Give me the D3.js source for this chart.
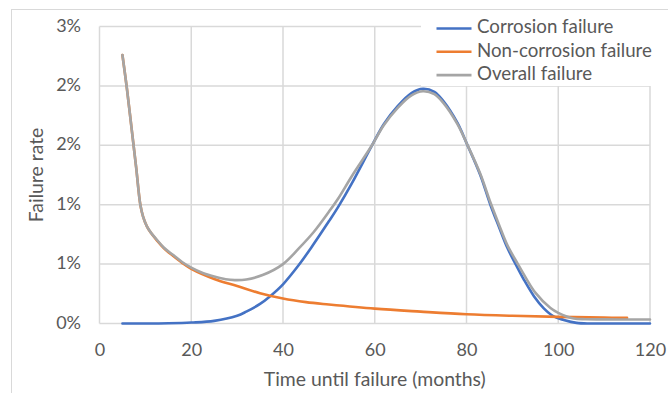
<!DOCTYPE html>
<html><head><meta charset="utf-8">
<script src="https://cdn.jsdelivr.net/npm/d3@7"></script>
<style>
html,body{margin:0;padding:0;background:#fff;}
svg{display:block;}
text{font-family:Lato,"Open Sans",sans-serif;fill:#595959;}
</style></head>
<body><svg id="chart" width="668" height="393"></svg>
<script>
// ---- data (failure rate in %) ----
const seriesNames = ["Corrosion failure","Non-corrosion failure","Overall failure"];
const seriesColors = ["#4472C4","#ED7D31","#A5A5A5"];

const corrosionMonths = [5,10,15,20,25,30,32,35,37.2,40,43.4,46,50,52,55,59.4,62,65,68,70.5,73,75,78,80,83,85.2,87,88.9,90.7,92.5,94.7,96.8,99,101.2,104,107,110,115,120];
const corrosionRate   = [0,0,0.002,0.008,0.022,0.065,0.1,0.165,0.23,0.33,0.49,0.63,0.86,0.98,1.18,1.5,1.68,1.83,1.94,1.976,1.95,1.87,1.69,1.52,1.25,1.0,0.82,0.637,0.5,0.37,0.23,0.13,0.06,0.03,0.005,0,0,0,0];

const nonCorrosionMonths = [5,6,7,8,8.9,9.5,10.3,11.2,12.5,14,16,18,20,25,30,35,40,45,50,60,70,80,90,100,110,115];
const nonCorrosionRate   = [2.26,1.97,1.64,1.31,1.0,0.9,0.82,0.763,0.7,0.635,0.57,0.51,0.46,0.375,0.315,0.255,0.21,0.18,0.16,0.125,0.1,0.078,0.065,0.056,0.05,0.047];

const overallMonths = [5,6,7,8,8.9,9.5,10.3,11.2,12.5,14,16,18,20,22.5,25,27.5,29.5,32,35.7,40,43.4,46.7,50,52,55,59.4,62,65,68,70.5,73,75,78,80,83,85.2,87,88.9,91.2,93,95,98.3,100,103.4,106,110,115,120];
const overallRate   = [2.26,1.97,1.64,1.31,1.0,0.9,0.82,0.765,0.705,0.64,0.578,0.518,0.47,0.425,0.395,0.372,0.365,0.37,0.41,0.5,0.63,0.77,0.94,1.05,1.24,1.5,1.67,1.815,1.92,1.955,1.93,1.855,1.68,1.52,1.26,1.02,0.84,0.66,0.5,0.38,0.26,0.13,0.09,0.042,0.036,0.035,0.034,0.034];

const xTickValues = [0,20,40,60,80,100,120];
const yTickValues = [0,0.5,1,1.5,2,2.5];
const yTickLabels = ["0%","1%","1%","2%","2%","3%"];
const xTitle = "Time until failure (months)";
const yTitle = "Failure rate";

// ---- drawing ----
const svg = d3.select("#chart");
const x = d3.scaleLinear().domain([0,120]).range([99.5,650]);
const y = d3.scaleLinear().domain([0,2.5]).range([323.5,26.5]);

// outer chart border
svg.append("rect").attr("x",11.5).attr("y",9.5).attr("width",700).attr("height",400)
  .attr("fill","#fff").attr("stroke","#D9D9D9").attr("stroke-width",1);

// gridlines
svg.append("g").selectAll("line").data(yTickValues).join("line")
  .attr("x1",x(0)).attr("x2",x(120)).attr("y1",d=>y(d)).attr("y2",d=>y(d))
  .attr("stroke","#D9D9D9").attr("stroke-width",1.5);
svg.append("g").selectAll("line").data(xTickValues).join("line")
  .attr("x1",d=>x(d)).attr("x2",d=>x(d)).attr("y1",y(0)).attr("y2",y(2.5))
  .attr("stroke","#D9D9D9").attr("stroke-width",1.5);

// axes (labels only)
const xAxis = svg.append("g").attr("transform",`translate(0,${y(0)})`)
  .call(d3.axisBottom(x).tickValues(xTickValues).tickSize(0).tickPadding(0).tickFormat(d3.format("d")));
xAxis.select(".domain").remove();
xAxis.selectAll("text").attr("y",28).attr("dy",0).attr("dominant-baseline","middle")
  .style("font-size","18px").style("font-family","Lato").attr("fill","#595959");

const yAxis = svg.append("g").attr("transform",`translate(81,0)`)
  .call(d3.axisLeft(y).tickValues(yTickValues).tickSize(0).tickPadding(0).tickFormat((d,i)=>yTickLabels[i]));
yAxis.select(".domain").remove();
yAxis.selectAll("text").attr("x",0).attr("dy",0).attr("dominant-baseline","middle")
  .style("font-size","18px").style("font-family","Lato").attr("fill","#595959");

// axis titles
svg.append("text").attr("x",(x(0)+x(120))/2).attr("y",381).attr("text-anchor","middle")
  .attr("dominant-baseline","middle").style("font-size","19.4px").text(xTitle);
svg.append("text").attr("transform",`translate(38.5,${(y(0)+y(2.5))/2}) rotate(-90)`)
  .attr("text-anchor","middle").attr("dominant-baseline","middle").style("font-size","19.4px").text(yTitle);

// lines
const series = [
  {months:corrosionMonths, rate:corrosionRate},
  {months:nonCorrosionMonths, rate:nonCorrosionRate},
  {months:overallMonths, rate:overallRate}
];
const line = d3.line().x(d=>x(d[0])).y(d=>y(d[1])).curve(d3.curveCatmullRom.alpha(0.5));
series.forEach((s,i)=>{
  const pts = s.months.map((m,j)=>[m,s.rate[j]]);
  svg.append("path").attr("d",line(pts)).attr("fill","none")
    .attr("stroke",seriesColors[i]).attr("stroke-width",2.6)
    .attr("stroke-linejoin","round").attr("stroke-linecap","round");
});

// legend
const lg = svg.append("g");
lg.append("rect").attr("x",421).attr("y",10).attr("width",247).attr("height",76).attr("fill","#fff");
seriesNames.forEach((n,i)=>{
  const yy = 28.5 + i*23.3;
  lg.append("line").attr("x1",436.5).attr("x2",471.5).attr("y1",yy).attr("y2",yy)
    .attr("stroke",seriesColors[i]).attr("stroke-width",2.6);
  lg.append("text").attr("x",477).attr("y",yy).attr("dominant-baseline","middle")
    .style("font-size","18.7px").text(n);
});
</script></body></html>
